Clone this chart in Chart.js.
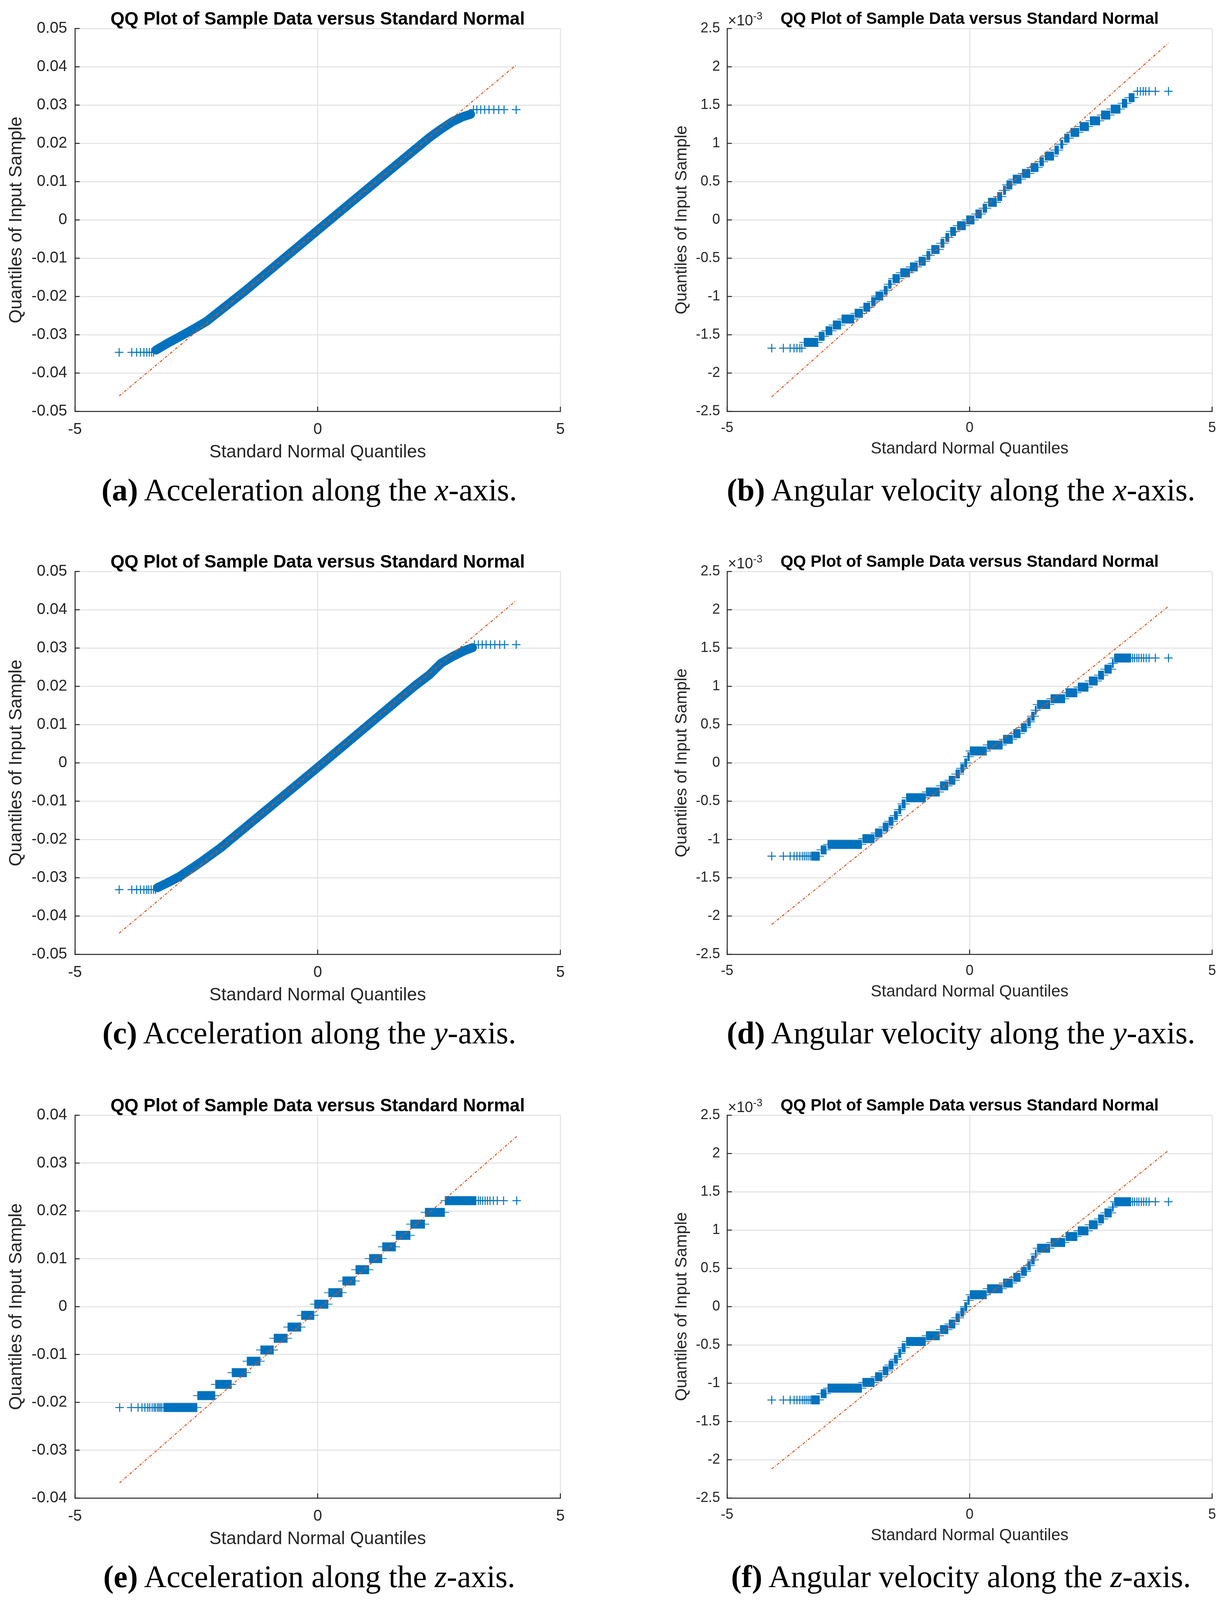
<!DOCTYPE html>
<html>
<head>
<meta charset="utf-8">
<title>QQ plots</title>
<script src="https://cdn.jsdelivr.net/npm/chart.js@4.4.1/dist/chart.umd.min.js"></script>
<style>
  html, body { margin: 0; padding: 0; background: #fff; }
  body { width: 3137px; height: 4100px; position: relative; overflow: hidden; }
  canvas { position: absolute; }
  .title { position: absolute; font: bold 46px "Liberation Sans", Arial, sans-serif; color: #000;
           text-align: center; white-space: nowrap; line-height: 46px; }
  .title.r { font-size: 42px; line-height: 42px; }
  .exp { position: absolute; font: 38px "Liberation Sans", Arial, sans-serif; color: #262626;
         line-height: 40px; white-space: nowrap; }
  .exp sup { font-size: 27px; vertical-align: 15px; line-height: 0; }
  .cap { position: absolute; width: 1600px; font: 80px "Liberation Serif", "Times New Roman", serif;
         color: #000; text-align: center; white-space: nowrap; line-height: 80px; }
</style>
</head>
<body>

<canvas id="acc-x" width="1568" height="1200" style="left:0;top:0;width:1568px;height:1200px"></canvas>
<canvas id="gyro-x" width="1569" height="1200" style="left:1568px;top:0;width:1569px;height:1200px"></canvas>
<canvas id="acc-y" width="1568" height="1200" style="left:0;top:1390px;width:1568px;height:1200px"></canvas>
<canvas id="gyro-y" width="1569" height="1200" style="left:1568px;top:1390px;width:1569px;height:1200px"></canvas>
<canvas id="acc-z" width="1568" height="1200" style="left:0;top:2782px;width:1568px;height:1200px"></canvas>
<canvas id="gyro-z" width="1569" height="1200" style="left:1568px;top:2782px;width:1569px;height:1200px"></canvas>

<div class="title" style="left:192px;top:24px;width:1243px">QQ Plot of Sample Data versus Standard Normal</div>
<div class="title r" style="left:1862px;top:26px;width:1242px">QQ Plot of Sample Data versus Standard Normal</div>
<div class="title" style="left:192px;top:1414px;width:1243px">QQ Plot of Sample Data versus Standard Normal</div>
<div class="title r" style="left:1862px;top:1416px;width:1242px">QQ Plot of Sample Data versus Standard Normal</div>
<div class="title" style="left:192px;top:2806px;width:1243px">QQ Plot of Sample Data versus Standard Normal</div>
<div class="title r" style="left:1862px;top:2808px;width:1242px">QQ Plot of Sample Data versus Standard Normal</div>

<div class="exp" style="left:1864px;top:32px">&times;10<sup>-3</sup></div>
<div class="exp" style="left:1864px;top:1422px">&times;10<sup>-3</sup></div>
<div class="exp" style="left:1864px;top:2814px">&times;10<sup>-3</sup></div>

<div class="cap" style="left:-8px;top:1214px"><b>(a)</b> Acceleration along the <i>x</i>-axis.</div>
<div class="cap" style="left:1661px;top:1214px"><b>(b)</b> Angular velocity along the <i>x</i>-axis.</div>
<div class="cap" style="left:-8px;top:2604px"><b>(c)</b> Acceleration along the <i>y</i>-axis.</div>
<div class="cap" style="left:1661px;top:2604px"><b>(d)</b> Angular velocity along the <i>y</i>-axis.</div>
<div class="cap" style="left:-8px;top:3996px"><b>(e)</b> Acceleration along the <i>z</i>-axis.</div>
<div class="cap" style="left:1661px;top:3996px"><b>(f)</b> Angular velocity along the <i>z</i>-axis.</div>

<script>
// ---- (a) acceleration, x-axis ----
const accXRefQ = [-4.09, 4.09];
const accXRefV = [-0.0460, 0.0405];
const accXBandQ = [-3.33, -3.09, -2.77, -2.53, -2.29, -1.5, 0, 1.5, 2.30, 2.54, 2.78, 2.98, 3.15];
const accXBandV = [-0.0340, -0.0322, -0.0300, -0.0283, -0.0265, -0.0186, -0.0027, 0.0131, 0.0215, 0.0237, 0.0257, 0.0269, 0.0276];
const accXLowQ = [-4.09, -3.83, -3.73, -3.65, -3.58, -3.52, -3.47, -3.42, -3.38];
const accXLowV = -0.0346;
const accXHighQ = [3.21, 3.28, 3.36, 3.44, 3.53, 3.63, 3.73, 3.84, 4.09];
const accXHighV = 0.0288;

// ---- (c) acceleration, y-axis ----
const accYRefQ = [-4.09, 4.09];
const accYRefV = [-0.0445, 0.0424];
const accYBandQ = [-3.30, -3.09, -2.85, -2.61, -2.37, -2.0, 0, 2.0, 2.30, 2.54, 2.78, 3.02, 3.19];
const accYBandV = [-0.0326, -0.0313, -0.0297, -0.0277, -0.0256, -0.0222, -0.0012, 0.0201, 0.0230, 0.0260, 0.0278, 0.0293, 0.0301];
const accYLowQ = [-4.09, -3.83, -3.73, -3.65, -3.58, -3.52, -3.48, -3.43, -3.38, -3.34];
const accYLowV = -0.0331;
const accYHighQ = [3.23, 3.31, 3.39, 3.47, 3.56, 3.65, 3.75, 3.85, 4.09];
const accYHighV = 0.0309;

// ---- (e) acceleration, z-axis (quantised levels) ----
const accZRefQ = [-4.08, 4.10];
const accZRefV = [-0.03682, 0.03557];
const accZLevel = [-0.02109, -0.01859, -0.01625, -0.0138, -0.0114, -0.00906, -0.00661, -0.00427, -0.00182,
                   0.00052, 0.00292, 0.00536, 0.00771, 0.01005, 0.0125, 0.0149, 0.01724, 0.01969, 0.02214];
const accZFrom = [-3.18, -2.48, -2.11, -1.77, -1.46, -1.18, -0.905, -0.62, -0.34, -0.07, 0.22, 0.51, 0.78, 1.06, 1.33, 1.61, 1.91, 2.21, 2.62];
const accZTo   = [-2.48, -2.11, -1.77, -1.46, -1.18, -0.905, -0.62, -0.34, -0.07, 0.22, 0.51, 0.78, 1.06, 1.33, 1.61, 1.91, 2.21, 2.62, 3.27];
const accZLowQ = [-4.08, -3.84, -3.70, -3.62, -3.56, -3.50, -3.46, -3.41, -3.37, -3.34, -3.30, -3.27, -3.24, -3.21];
const accZLowV = -0.02109;
const accZHighQ = [3.31, 3.35, 3.40, 3.45, 3.50, 3.55, 3.62, 3.70, 3.83, 4.10];
const accZHighV = 0.02214;

// ---- (b) angular velocity, x-axis ----
const gyroXRefQ = [-4.08, 4.10];
const gyroXRefV = [-2.31e-3, 2.31e-3];
const gyroXLevel = [-1.600e-3, -1.520e-3, -1.448e-3, -1.373e-3, -1.295e-3, -1.220e-3, -1.140e-3, -1.068e-3, -0.994e-3,
                    -0.920e-3, -0.840e-3, -0.766e-3, -0.690e-3, -0.614e-3, -0.540e-3, -0.464e-3, -0.386e-3, -0.305e-3,
                    -0.230e-3, -0.150e-3, -0.075e-3, 0, 0.078e-3, 0.153e-3, 0.230e-3, 0.305e-3, 0.386e-3, 0.458e-3,
                    0.532e-3, 0.607e-3, 0.685e-3, 0.760e-3, 0.834e-3, 0.912e-3, 0.987e-3, 1.068e-3, 1.143e-3,
                    1.220e-3, 1.295e-3, 1.370e-3, 1.448e-3, 1.523e-3, 1.597e-3];
const gyroXFrom = [-3.42, -3.11, -2.97, -2.82, -2.64, -2.37, -2.19, -2.03, -1.94, -1.77, -1.68, -1.59, -1.43, -1.23,
                   -1.05, -0.89, -0.79, -0.60, -0.50, -0.40, -0.26, -0.07, 0.12, 0.27, 0.38, 0.57, 0.69, 0.76, 0.89,
                   1.08, 1.26, 1.44, 1.55, 1.75, 1.87, 1.95, 2.08, 2.27, 2.48, 2.71, 2.91, 3.14, 3.28];
const gyroXTo   = [-3.12, -2.99, -2.83, -2.65, -2.38, -2.20, -2.05, -1.94, -1.78, -1.69, -1.61, -1.44, -1.23, -1.07,
                   -0.905, -0.81, -0.62, -0.52, -0.42, -0.28, -0.08, 0.10, 0.25, 0.36, 0.56, 0.67, 0.75, 0.88, 1.07,
                   1.25, 1.42, 1.53, 1.74, 1.84, 1.93, 2.06, 2.26, 2.46, 2.69, 2.90, 3.11, 3.25, 3.40];
const gyroXLowQ = [-4.08, -3.84, -3.70, -3.62, -3.56, -3.50, -3.46];
const gyroXLowV = -1.675e-3;
const gyroXHighQ = [3.46, 3.52, 3.58, 3.63, 3.70, 3.83, 4.10];
const gyroXHighV = 1.68e-3;

// ---- (d) angular velocity, y-axis ----
const gyroYRefQ = [-4.08, 4.10];
const gyroYRefV = [-2.11e-3, 2.045e-3];
const gyroYLevel = [-1.218e-3, -1.136e-3, -1.065e-3, -0.990e-3, -0.916e-3, -0.838e-3, -0.763e-3, -0.688e-3, -0.610e-3,
                    -0.536e-3, -0.455e-3, -0.380e-3, -0.300e-3, -0.227e-3, -0.146e-3, -0.071e-3, 0, 0.081e-3,
                    0.156e-3, 0.234e-3, 0.308e-3, 0.383e-3, 0.461e-3, 0.536e-3, 0.610e-3, 0.688e-3, 0.763e-3,
                    0.838e-3, 0.916e-3, 0.990e-3, 1.070e-3, 1.146e-3, 1.224e-3, 1.300e-3, 1.370e-3];
const gyroYFrom = [-3.27, -3.07, -2.93, -2.21, -1.95, -1.79, -1.67, -1.56, -1.47, -1.40, -1.31, -0.90, -0.61, -0.43,
                   -0.29, -0.19, -0.11, -0.045, 0.006, 0.36, 0.69, 0.90, 1.06, 1.19, 1.27, 1.345, 1.39, 1.67, 1.98,
                   2.23, 2.46, 2.65, 2.78, 2.935, 2.98];
const gyroYTo   = [-3.09, -2.95, -2.22, -1.96, -1.80, -1.675, -1.57, -1.48, -1.41, -1.32, -0.905, -0.616, -0.44,
                   -0.295, -0.20, -0.115, -0.05, 0, 0.353, 0.68, 0.89, 1.05, 1.18, 1.26, 1.34, 1.38, 1.66, 1.97,
                   2.22, 2.45, 2.64, 2.77, 2.93, 2.97, 3.33];
const gyroYLowQ = [-4.08, -3.84, -3.70, -3.62, -3.56, -3.50, -3.45, -3.41, -3.37, -3.33, -3.29];
const gyroYLowV = -1.218e-3;
const gyroYHighQ = [3.36, 3.40, 3.45, 3.49, 3.54, 3.59, 3.64, 3.70, 3.83, 4.10];
const gyroYHighV = 1.37e-3;

// ---- (f) angular velocity, z-axis (reads the same as (d)) ----
const gyroZRefQ = [-4.08, 4.10];
const gyroZRefV = [-2.12e-3, 2.04e-3];
const gyroZLevel = gyroYLevel.slice();
const gyroZFrom = gyroYFrom.slice();
const gyroZTo = gyroYTo.slice();
const gyroZLowQ = gyroYLowQ.slice();
const gyroZLowV = -1.22e-3;
const gyroZHighQ = gyroYHighQ.slice();
const gyroZHighV = 1.37e-3;

const BLUE = '#0072BD';
const ORANGE = '#D95319';
const INK = '#262626';

Chart.defaults.font.family = '"Liberation Sans", Arial, Helvetica, sans-serif';
Chart.defaults.color = INK;

function pairs(qs, vs) {
  return qs.map((q, i) => ({ x: q, y: vs[i] }));
}
function level(qs, v) {
  return qs.map(q => ({ x: q, y: v }));
}
function steps(levels, from, to) {
  var pts = [];
  levels.forEach((v, i) => {
    pts.push({ x: from[i], y: v }, { x: to[i], y: v }, { x: to[i], y: null });
  });
  return pts;
}

// MATLAB-like inward tick marks on the left and bottom axes
const innerTicks = {
  id: 'innerTicks',
  afterDraw(chart) {
    const { ctx, chartArea: a, scales: { x, y } } = chart;
    ctx.save();
    ctx.strokeStyle = INK;
    ctx.lineWidth = 2.5;
    ctx.beginPath();
    y.ticks.forEach(t => {
      const py = y.getPixelForValue(t.value);
      ctx.moveTo(a.left, py); ctx.lineTo(a.left + 12, py);
    });
    x.ticks.forEach(t => {
      const px = x.getPixelForValue(t.value);
      ctx.moveTo(px, a.bottom); ctx.lineTo(px, a.bottom - 12);
    });
    ctx.stroke();
    ctx.restore();
  }
};

// left column panels use slightly larger text than the right column
const leftCol = { tick: 40, label: 46, axisWidth: 192, titlePad: 15, yPad: 20, xHeight: 133, xPad: 23, right: 133 };
const rightCol = { tick: 36, label: 42, axisWidth: 294, titlePad: 153, yPad: 18, xHeight: 122, xPad: 21, right: 33 };

function qqChart(id, col, o) {
  var sample = o.band
    ? { data: o.band, showLine: true, borderColor: BLUE, borderWidth: 23, borderJoinStyle: 'round',
        borderCapStyle: 'round', pointRadius: 0, order: 2 }
    : { data: o.blocks, showLine: true, borderColor: BLUE, borderWidth: 23, borderCapStyle: 'butt',
        pointStyle: 'line', pointRadius: 11, pointBorderWidth: 2, pointBorderColor: BLUE,
        pointBackgroundColor: BLUE, spanGaps: false, order: 2 };
  return new Chart(document.getElementById(id).getContext('2d'), {
    type: 'line',
    data: {
      datasets: [
        { data: o.ref, showLine: true, borderColor: ORANGE, borderWidth: 2.5, borderDash: [7, 4, 2, 4],
          pointRadius: 0, order: 0 },
        { data: o.tails, showLine: false, pointStyle: 'cross', pointRadius: 11, pointBorderWidth: 2.5,
          pointBorderColor: BLUE, order: 1 },
        sample
      ]
    },
    options: {
      responsive: false,
      animation: false,
      devicePixelRatio: 1,
      layout: { padding: { left: 0, top: 73, right: col.right, bottom: 1200 - 1053 - col.xHeight } },
      plugins: { legend: { display: false }, tooltip: { enabled: false } },
      scales: {
        x: {
          type: 'linear', min: -5, max: 5,
          ticks: { stepSize: 5, padding: col.xPad, font: { size: col.tick }, color: INK },
          grid: { color: '#e1e1e1', lineWidth: 2.5, drawTicks: false },
          border: { color: INK, width: 2.5 },
          title: { display: true, text: 'Standard Normal Quantiles', font: { size: col.label }, color: INK, padding: 0 },
          afterFit: s => { s.height = col.xHeight; }
        },
        y: {
          type: 'linear', min: o.min, max: o.max,
          ticks: { stepSize: o.step, padding: col.yPad, font: { size: col.tick }, color: INK, callback: o.fmt },
          grid: { color: '#e1e1e1', lineWidth: 2.5, drawTicks: false },
          border: { color: INK, width: 2.5 },
          title: { display: true, text: 'Quantiles of Input Sample', font: { size: col.label }, color: INK,
                   padding: { top: col.titlePad, bottom: 0 } },
          afterFit: s => { s.width = col.axisWidth; }
        }
      }
    },
    plugins: [innerTicks]
  });
}

const accFmt = v => String(+v.toFixed(2));
const gyroFmt = v => String(+(v * 1000).toFixed(1));

var accXChart = qqChart('acc-x', leftCol, {
  ref: pairs(accXRefQ, accXRefV), band: pairs(accXBandQ, accXBandV),
  tails: level(accXLowQ, accXLowV).concat(level(accXHighQ, accXHighV)),
  min: -0.05, max: 0.05, step: 0.01, fmt: accFmt
});
var accYChart = qqChart('acc-y', leftCol, {
  ref: pairs(accYRefQ, accYRefV), band: pairs(accYBandQ, accYBandV),
  tails: level(accYLowQ, accYLowV).concat(level(accYHighQ, accYHighV)),
  min: -0.05, max: 0.05, step: 0.01, fmt: accFmt
});
var accZChart = qqChart('acc-z', leftCol, {
  ref: pairs(accZRefQ, accZRefV), blocks: steps(accZLevel, accZFrom, accZTo),
  tails: level(accZLowQ, accZLowV).concat(level(accZHighQ, accZHighV)),
  min: -0.04, max: 0.04, step: 0.01, fmt: accFmt
});
var gyroXChart = qqChart('gyro-x', rightCol, {
  ref: pairs(gyroXRefQ, gyroXRefV), blocks: steps(gyroXLevel, gyroXFrom, gyroXTo),
  tails: level(gyroXLowQ, gyroXLowV).concat(level(gyroXHighQ, gyroXHighV)),
  min: -0.0025, max: 0.0025, step: 0.0005, fmt: gyroFmt
});
var gyroYChart = qqChart('gyro-y', rightCol, {
  ref: pairs(gyroYRefQ, gyroYRefV), blocks: steps(gyroYLevel, gyroYFrom, gyroYTo),
  tails: level(gyroYLowQ, gyroYLowV).concat(level(gyroYHighQ, gyroYHighV)),
  min: -0.0025, max: 0.0025, step: 0.0005, fmt: gyroFmt
});
var gyroZChart = qqChart('gyro-z', rightCol, {
  ref: pairs(gyroZRefQ, gyroZRefV), blocks: steps(gyroZLevel, gyroZFrom, gyroZTo),
  tails: level(gyroZLowQ, gyroZLowV).concat(level(gyroZHighQ, gyroZHighV)),
  min: -0.0025, max: 0.0025, step: 0.0005, fmt: gyroFmt
});
</script>
</body>
</html>
